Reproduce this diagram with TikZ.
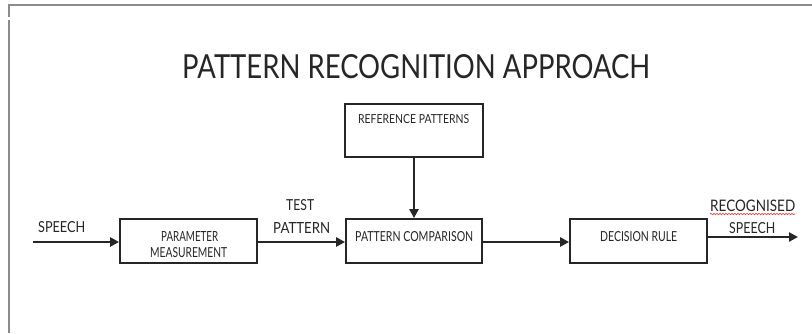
\documentclass[tikz,border=0pt]{standalone}
\usepackage{fontspec}
\setmainfont{Lato}
\usepackage{graphicx}
\usetikzlibrary{arrows.meta,decorations.pathmorphing}
\definecolor{ink}{HTML}{262626}
\definecolor{frame}{HTML}{8C8C8C}
\newcommand{\fitt}[3]{\resizebox{#1pt}{#2pt}{#3}}
\tikzset{
  blk/.style={draw=ink, line width=1.8pt, fill=white, inner sep=0pt},
  lbl/.style={anchor=north west, inner sep=0pt, text=ink},
  flow/.style={draw=ink, line width=2.8pt, -{Triangle[length=9pt,width=9pt]}, shorten >=0pt},
  border/.style={draw=frame, line width=2.2pt},
}
\begin{document}
\begin{tikzpicture}[x=1pt,y=-1pt]
\useasboundingbox (0,0) rectangle (812,333);
\fill[white] (0,0) rectangle (812,333);
% frame
\draw[border] (8,5) -- (812,5);
\draw[border] (9,5) -- (9,17);
\draw[border] (9,20) -- (9,333);
% title
\node[lbl] (title) at (182,54) {\fitt{468}{24}{PATTERN RECOGNITION APPROACH}};
% boxes
\node[blk, minimum width=137pt, minimum height=44pt] (pm) at (188.5,241) {};
\node[blk, minimum width=136pt, minimum height=44pt] (pc) at (414,241) {};
\node[blk, minimum width=137pt, minimum height=44pt] (dr) at (638.5,241) {};
\node[blk, minimum width=138pt, minimum height=53pt] (rp) at (414,130.5) {};
% box texts
\node[lbl] (t1) at (161,231) {\fitt{57}{10}{PARAMETER}};
\node[lbl] (t2) at (150,247.5) {\fitt{77}{10}{MEASUREMENT}};
\node[lbl] (t3) at (355,231) {\fitt{118}{10}{PATTERN COMPARISON}};
\node[lbl] (t4) at (358,114) {\fitt{111}{9}{REFERENCE PATTERNS}};
\node[lbl] (t5) at (600,231) {\fitt{77}{10}{DECISION RULE}};
% connector labels
\node[lbl] (s1) at (38,221) {\fitt{47}{11}{SPEECH}};
\node[lbl] (tp1) at (286,199) {\fitt{28}{11}{TEST}};
\node[lbl] (tp2) at (273,222) {\fitt{57}{11}{PATTERN}};
\node[lbl] (r1) at (710,200) {\fitt{85}{11.5}{RECOGNISED}};
\node[lbl] (r2) at (729,222) {\fitt{46}{11}{SPEECH}};
% spell-check underline
\coordinate (u1) at (710,214);
\coordinate (u2) at (795,214);
\draw[red!80!white, line width=0.6pt, decorate, decoration={snake, amplitude=0.7pt, segment length=3pt}] (u1) -- (u2);
% connectors
\coordinate (in) at (33,242);
\coordinate (out) at (798,237);
\draw[flow] (in) -- (pm.west |- in);
\draw[flow] (pm.east |- in) -- (pc.west |- in);
\draw[flow] (pc.east |- in) -- (dr.west |- in);
\draw[flow] (dr.east |- out) -- (out);
\draw[flow] (rp.south) -- (pc.north);
\end{tikzpicture}
\end{document}
